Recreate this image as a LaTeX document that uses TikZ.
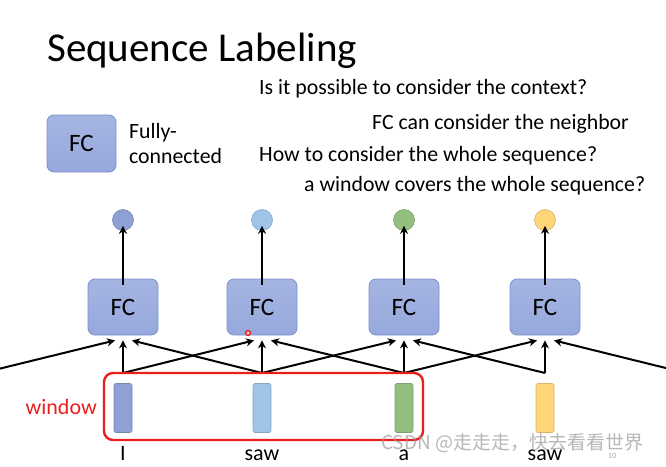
\documentclass[tikz,border=0pt]{standalone}
\usepackage{fontspec}
\setmainfont{Carlito}
\newfontfamily\cjkfont{Noto Sans CJK SC}
\usetikzlibrary{arrows.meta,calc}
\definecolor{fcfill}{RGB}{150,168,220}
\definecolor{fctop}{RGB}{165,181,226}
\definecolor{fcdraw}{RGB}{125,145,205}
\definecolor{cA}{RGB}{143,160,212}
\definecolor{cB}{RGB}{160,196,232}
\definecolor{cC}{RGB}{146,190,128}
\definecolor{cD}{RGB}{254,214,120}
\definecolor{winred}{RGB}{235,30,30}
\tikzset{
  fcbox/.style={draw=fcdraw, line width=0.8pt, rounded corners=7pt, top color=fctop, bottom color=fcfill,
    minimum width=70pt, minimum height=56pt, inner sep=0pt, font=\fontsize{25}{26}\selectfont},
  arr/.style={line width=2pt, -{Stealth[length=8pt,width=8pt]}},
  txt/.style={anchor=west, inner sep=0pt, font=\fontsize{21.8}{24}\selectfont},
  word/.style={inner sep=0pt, font=\fontsize{22}{24}\selectfont},
}
\begin{document}
\begin{tikzpicture}[x=1pt,y=-1pt]
\clip (0,0) rectangle (666,466);
\fill[white] (0,0) rectangle (666,466);
% title and texts
\node[anchor=base west, inner sep=0pt, font=\fontsize{41}{44}\selectfont] (title) at (47,61) {Sequence Labeling};
\node[txt] (q1) at (259,89) {Is it possible to consider the context?};
\node[txt] (q2) at (372,124) {FC can consider the neighbor};
\node[txt] (q3) at (259,156) {How to consider the whole sequence?};
\node[txt] (q4) at (304,186) {a window covers the whole sequence?};
% legend
\node[fcbox, minimum width=69pt, minimum height=57pt] (legend) at (81.5,143.5) {FC};
\node[txt, align=left, anchor=west] (legtxt) at (129,143.5) {Fully-\\[1pt]connected};
% outputs
\foreach \i/\x/\c in {1/123/cA,2/262/cB,3/404/cC,4/545/cD}{
  \node[circle, draw=\c!85!black, fill=\c, line width=0.6pt, minimum size=21pt, inner sep=0pt] (o\i) at (\x,220) {};
  \node[fcbox] (f\i) at (\x,307) {FC};
  \node[draw=\c!85!black, fill=\c, line width=0.6pt, rounded corners=2pt, minimum width=18pt, minimum height=49pt, inner sep=0pt] (v\i) at (\x,408) {};
  \coordinate (t\i) at (\x,373);
  \draw[arr] ([yshift=-6pt]f\i.north) -- ([yshift=5pt]o\i.south);
}
\coordinate (t0) at (-18,373);
\coordinate (t5) at (686,373);
% inputs into FC
\foreach \i/\l/\r in {1/0/2,2/1/3,3/2/4,4/3/5}{
  \draw[arr] (t\i) -- ([yshift=-5pt]f\i.south);
  \draw[arr] (t\l) -- ([xshift=-8pt,yshift=-5pt]f\i.south);
  \draw[arr] (t\r) -- ([xshift=9pt,yshift=-5pt]f\i.south);
}
% window
\node[draw=winred, line width=2.4pt, rounded corners=9pt, minimum width=319pt, minimum height=67pt, inner sep=0pt] (win) at (263.5,406.5) {};
\node[word, text=winred, anchor=east] (wlabel) at (97,407) {window};
% words
\node[word, anchor=base] (w1) at (123,460) {I};
\node[word, anchor=base] (w2) at (262,460) {saw};
\node[word, anchor=base] (w3) at (404,460) {a};
\node[word, anchor=base] (w4) at (545,460) {saw};
% artifacts
\node[circle, draw=red!90!black, line width=1pt, fill=red!30, minimum size=5pt, inner sep=0pt] (cursor) at (248,333) {};
\node[inner sep=0pt, font=\fontsize{8}{8}\selectfont, text=gray!70] (pg) at (612,456) {10};
\node[anchor=west, inner sep=0pt, text=gray!80, opacity=0.7, font=\cjkfont\fontsize{19}{20}\selectfont] (wm) at (381,443) {CSDN @走走走，快去看看世界};
\end{tikzpicture}
\end{document}
